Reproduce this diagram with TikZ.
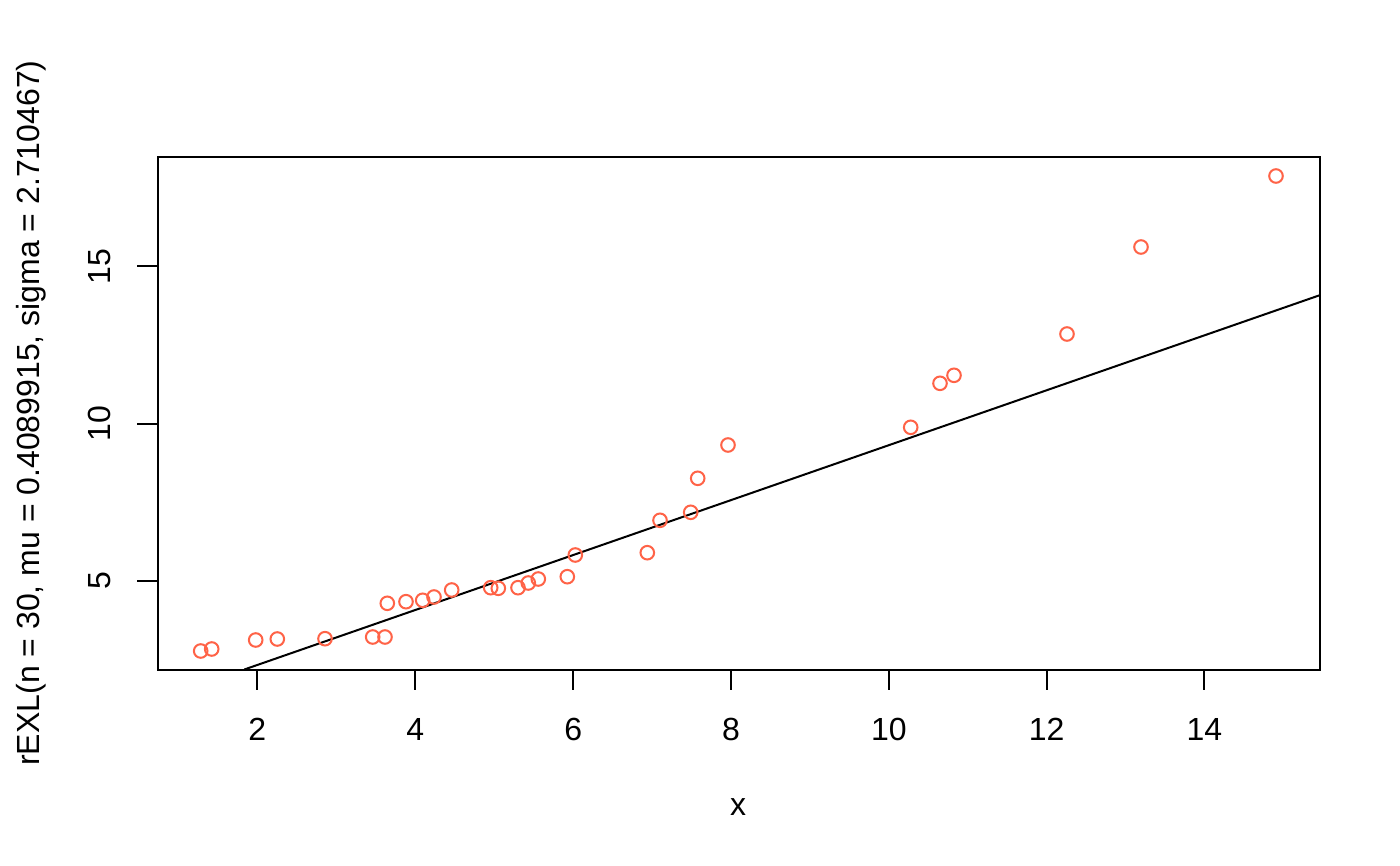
\documentclass[tikz,border=0pt]{standalone}
\usepackage{fontspec}
\setmainfont{Liberation Sans}
\definecolor{pt}{HTML}{FF6347}
\begin{document}
\begin{tikzpicture}[x=1pt,y=-1pt,
  lab/.style={font=\fontsize{32}{38}\selectfont, inner sep=0pt, anchor=base},
  pnt/.style={draw=pt, line width=2pt},
  ax/.style={line width=2pt, line cap=rect}]
\useasboundingbox[fill=white] (0,0) rectangle (1400,866);
% plot box
\draw[ax] (157.5,156.7) rectangle (1319.5,669.5);
% fitted line
\coordinate (l1) at (244.3,669.5);
\coordinate (l2) at (1319.5,295.3);
\draw[line width=2pt] (l1) -- (l2);
% x ticks
\foreach \v/\px in {2/257.3,4/415.3,6/573.2,8/731,10/888.8,12/1046.6,14/1204.3}{
  \draw[line width=2pt] (\px,669.5) -- (\px,690);
  \node[lab] (xt\v) at (\px,740) {\v};
}
% y ticks
\foreach \v/\py in {5/580.7,10/423.6,15/266.3}{
  \draw[line width=2pt] (137.3,\py) -- (157.5,\py);
  \node[lab, rotate=90] (yt\v) at (110,\py) {\v};
}
% axis titles
\node[lab] (xlab) at (738,815) {x};
\node[lab, rotate=90] (ylab) at (39,413) {rEXL(n = 30, mu = 0.4089915, sigma = 2.710467)};
% points
\foreach \a/\b in {200.7/651,211.7/649,255.7/640,277.3/639,325/638.7,372.7/637,385/637,
  387.3/603.3,406/601.7,422.7/600.3,434/597,451.7/590,490.7/587.7,498.3/588.3,518/587.7,
  528.3/583,538.3/579,567.3/576.7,575.3/555,647.3/552.7,660/520.3,690.7/512.3,697.7/478.3,
  728/445,910.7/427.3,940/383.3,954/375.3,1067/334,1141/247,1276/176}{
  \draw[pnt] (\a,\b) circle[radius=6.8];
}
\end{tikzpicture}
\end{document}
